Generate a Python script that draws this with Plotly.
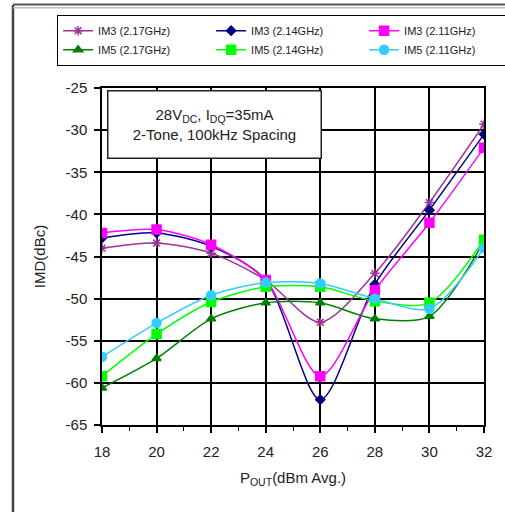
import plotly.graph_objects as go

pout = [18, 20, 22, 24, 26, 28, 30, 32]

im3_217 = [-44.0, -43.4, -44.6, -47.8, -52.8, -47.0, -38.6, -29.3]
im3_214 = [-42.8, -42.2, -43.8, -47.8, -62.0, -48.3, -39.5, -30.5]
im3_211 = [-42.2, -41.8, -43.6, -47.8, -59.2, -49.0, -41.0, -32.1]
im5_217 = [-60.6, -57.1, -52.4, -50.5, -50.5, -52.4, -52.1, -43.2]
im5_214 = [-59.2, -54.2, -50.4, -48.6, -48.6, -50.3, -50.5, -43.0]
im5_211 = [-56.9, -52.9, -49.6, -48.1, -48.2, -50.0, -51.2, -44.0]

series_names = ["IM3 (2.17GHz)", "IM3 (2.14GHz)", "IM3 (2.11GHz)",
                "IM5 (2.17GHz)", "IM5 (2.14GHz)", "IM5 (2.11GHz)"]
series_vals = [im3_217, im3_214, im3_211, im5_217, im5_214, im5_211]
colors = ["#993399", "#000080", "#FF00FF", "#008000", "#00FF00", "#33CCFF"]
symbols = ["asterisk-open", "diamond", "square", "triangle-up", "square", "circle"]
msizes = [8, 7, 9, 8, 9, 9]

x_ticks = [18, 20, 22, 24, 26, 28, 30, 32]
y_ticks = [-25, -30, -35, -40, -45, -50, -55, -60, -65]

font = "Liberation Sans, Arial, sans-serif"

fig = go.Figure()
for name, vals, c, s, ms in zip(series_names, series_vals, colors, symbols, msizes):
    fig.add_trace(go.Scatter(
        x=pout, y=vals, name=name, mode="lines+markers",
        line=dict(color=c, width=1.5, shape="spline", smoothing=0.8),
        marker=dict(symbol=s, size=ms, color=c, line=dict(color=c, width=1.5)),
    ))

fig.update_layout(
    width=505, height=512,
    margin=dict(l=102, r=21, t=88, b=87, autoexpand=False),
    paper_bgcolor="white", plot_bgcolor="white",
    font=dict(family=font, size=15, color="#222"),
    showlegend=True,
    legend=dict(
        orientation="h", x=-0.118, y=1.2166, xanchor="left", yanchor="top",
        entrywidth=108, entrywidthmode="pixels",
        bordercolor="black", borderwidth=1.2, bgcolor="white",
        font=dict(family=font, size=11, color="#222"),
        tracegroupgap=0, itemwidth=30,
    ),
    xaxis=dict(
        range=[18, 32], tickvals=x_ticks, ticktext=[str(v) for v in x_ticks],
        showgrid=True, gridcolor="black", gridwidth=1.5,
        showline=True, linecolor="black", linewidth=1.5, mirror=True,
        ticks="outside", ticklen=6, tickcolor="black", tickwidth=1.5,
        ticklabelstandoff=6,
        minor=dict(tickvals=[19, 21, 23, 25, 27, 29, 31], ticks="outside", ticklen=4,
                   tickcolor="black", tickwidth=1.2, showgrid=False),
        zeroline=False,
        title=dict(text="P<sub>OUT</sub>(dBm Avg.)", standoff=14,
                   font=dict(family=font, size=15)),
        tickfont=dict(family=font, size=15),
    ),
    yaxis=dict(
        range=[-65, -25], tickvals=y_ticks, ticktext=[str(v) for v in y_ticks],
        showgrid=True, gridcolor="black", gridwidth=1.5,
        showline=True, linecolor="black", linewidth=1.5, mirror=True,
        ticks="outside", ticklen=6, tickcolor="black", tickwidth=1.5,
        ticklabelstandoff=4,
        zeroline=False,
        title=dict(text="IMD(dBc)", standoff=16, font=dict(family=font, size=15)),
        tickfont=dict(family=font, size=15),
    ),
)

fig.add_annotation(
    xref="paper", yref="paper", x=0.013, y=0.994, xanchor="left", yanchor="top",
    text="28V<sub>DC</sub>, I<sub>DQ</sub>=35mA<br>2-Tone, 100kHz Spacing",
    showarrow=False, align="center", width=210, height=64,
    bgcolor="white", bordercolor="#222", borderwidth=1.5, borderpad=1,
    font=dict(family=font, size=15, color="#222"),
)

# outer frame
fig.add_shape(type="line", xref="paper", yref="paper", x0=-0.233, x1=-0.233,
              y0=1.246, y1=-0.27, line=dict(color="#444", width=2.5))
fig.add_shape(type="line", xref="paper", yref="paper", x0=-0.233, x1=1.06,
              y0=1.248, y1=1.248, line=dict(color="#555", width=2))
fig.add_shape(type="line", xref="paper", yref="paper", x0=-0.233, x1=1.06,
              y0=1.238, y1=1.238, line=dict(color="#bbb", width=1.5))

fig.write_html("out.html", config={"displayModeBar": False},
               post_script="document.body.style.margin='0px';")
